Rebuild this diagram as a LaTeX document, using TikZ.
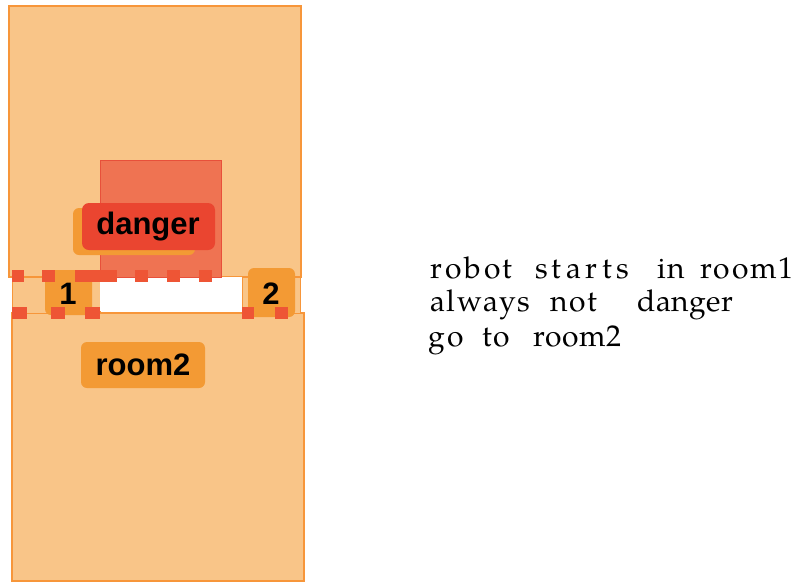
\documentclass[tikz,border=0pt]{standalone}
\usepackage{fontspec}
\newfontfamily\labfont{Liberation Sans}
\newfontfamily\txtfont{TeX Gyre Pagella}
\definecolor{roomfill}{HTML}{F9C588}
\definecolor{roomline}{HTML}{F7963A}
\definecolor{labfill}{HTML}{F39A34}
\definecolor{dangfill}{HTML}{EF7352}
\definecolor{dangline}{HTML}{E8503A}
\definecolor{danglab}{HTML}{EA4530}
\definecolor{dashred}{HTML}{EE5535}
\tikzset{
  room/.style={fill=roomfill,draw=roomline,line width=1.5pt},
  lab/.style={fill=labfill,rounded corners=6pt,inner sep=0pt},
  labtext/.style={font=\labfont\bfseries\fontsize{31}{31}\selectfont,text=black,inner sep=0pt},
  dsq/.style={fill=dashred},
  word/.style={font=\txtfont\fontsize{30}{30}\selectfont,anchor=base west,inner sep=0pt}
}
\newcommand{\ls}[2]{{\addfontfeature{LetterSpace=#1}#2}}
\begin{document}
\begin{tikzpicture}[x=1pt,y=-1pt]
\useasboundingbox (0,0) rectangle (793,582);
% rooms
\path[room] (9,6) rectangle (301,277);
\path[room] (12,313) rectangle (304,581);
% corridor
\path[fill=roomfill,draw=roomline,line width=1pt] (12,277) rectangle (100,313);
\path[fill=roomfill,draw=roomline,line width=1pt] (242,277) rectangle (300,313);
\path[fill=white] (100,277) rectangle (242,311);
% danger region
\path[fill=dangfill,draw=dangline,line width=1pt] (100,160) rectangle (221,277);
% hidden room1 label and danger label
\path[lab] (73,208) rectangle (195,255);
\path[fill=danglab,rounded corners=7pt] (82,203) rectangle (215,250);
\node[labtext] (danger) at (148,227) {danger};
% door labels
\path[lab] (45,270) rectangle (92,315);
\path[lab] (248,268) rectangle (295,317);
% red dashes
\foreach \a/\b in {12/24,42/55,75/117,135/148,167/180,199/212}
  \path[dsq] (\a,270) rectangle (\b,282);
\foreach \a/\b in {12/27,51/65,85/100,242/254,275/288}
  \path[dsq] (\a,307) rectangle (\b,319);
\node[labtext] (one) at (68,294) {1};
\node[labtext] (two) at (271,294) {2};
\path[lab] (81,342) rectangle (205,388);
\node[labtext] (room2) at (143,365) {room2};
% text
\node[word] (w1) at (430,278) {\ls{10}{robot}};
\node[word] (w2) at (535,278) {\ls{15}{starts}};
\node[word] (w3) at (657,278) {\ls{6}{in}};
\node[word] (w4) at (700,278) {\ls{6}{room1}};
\node[word] (w5) at (430,311) {\ls{6}{always}};
\node[word] (w6) at (550,311) {\ls{6}{not}};
\node[word] (w7) at (637,311) {\ls{2}{danger}};
\node[word] (w8) at (428,346) {\ls{8}{go}};
\node[word] (w9) at (482,346) {\ls{6}{to}};
\node[word] (w10) at (533,346) {\ls{2}{room2}};
\end{tikzpicture}
\end{document}
